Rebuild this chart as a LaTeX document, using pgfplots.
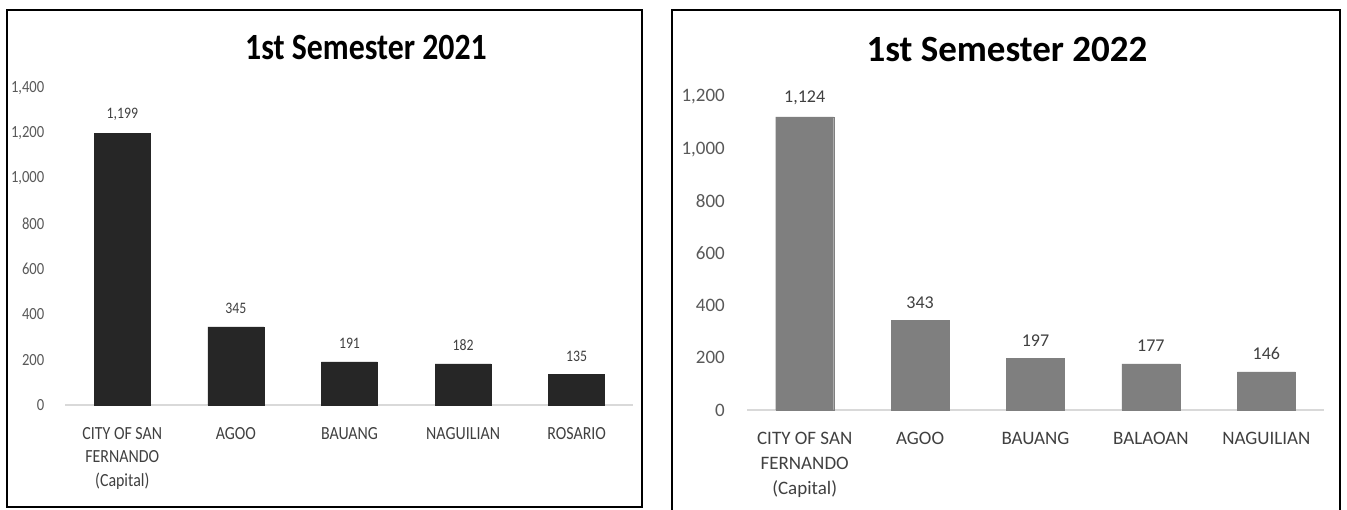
\documentclass[border=0pt]{standalone}
\usepackage{pgfplots}
\pgfplotsset{compat=1.18}
\usepackage{fontspec}
\setmainfont{Carlito}
\newfontfamily\condfont[FakeStretch=0.86]{Carlito}
\definecolor{txtgray}{HTML}{595959}
\definecolor{valgray}{HTML}{404040}
\definecolor{axgray}{HTML}{D9D9D9}
\definecolor{barblack}{HTML}{262626}
\definecolor{bargray}{HTML}{7F7F7F}
\begin{document}
\begin{tikzpicture}[x=1pt,y=1pt]
\clip (0,0) rectangle (1347,509);
\fill[white] (0,0) rectangle (1347,509);
\draw[line width=1.6pt, black] (7,2) rectangle (642,499);
\draw[line width=1.6pt, black] (672,-5) rectangle (1340,499);
\node[font=\condfont\bfseries\fontsize{37}{40}\selectfont, black] at (366,461) {1st Semester 2021};
\node[font=\bfseries\fontsize{37}{40}\selectfont, black] at (1007,459) {1st Semester 2022};
% left axis
\begin{axis}[
  at={(65.5pt,104pt)}, anchor=south west,
  scale only axis, width=568pt, height=317pt,
  xmin=-0.5, xmax=4.5, ymin=0, ymax=1400,
  axis lines*=left, separate axis lines,
  y axis line style={draw=none},
  x axis line style={draw=axgray, line width=1.5pt},
  tick style={draw=none},
  ytick={0,200,400,600,800,1000,1200,1400},
  yticklabels={0,200,400,600,800,{1,000},{1,200},{1,400}},
  yticklabel style={anchor=east, inner sep=0pt, xshift=-21pt, text=txtgray, font=\condfont\fontsize{17}{19}\selectfont},
  xtick={0,1,2,3,4},
  xticklabels={{CITY OF SAN\\FERNANDO\\(Capital)},AGOO,BAUANG,NAGUILIAN,ROSARIO},
  xticklabel style={anchor=north, inner sep=0pt, yshift=-18pt, align=center, text=valgray, font=\condfont\fontsize{18.5}{23.5}\selectfont},
  ybar, bar width=56pt,
  nodes near coords={\pgfmathprintnumber[assume math mode=true]{\pgfplotspointmeta}},
  nodes near coords style={text=valgray, font=\condfont\fontsize{16}{18}\selectfont, anchor=south, inner sep=0pt, yshift=13pt},
  clip=false,
]
\addplot[fill=barblack, draw=barblack] coordinates {(0,1199) (1,345) (2,191) (3,182) (4,135)};
\end{axis}
% right axis
\begin{axis}[
  at={(747pt,99pt)}, anchor=south west,
  scale only axis, width=577pt, height=313pt,
  xmin=-0.5, xmax=4.5, ymin=0, ymax=1200,
  axis lines*=left, separate axis lines,
  y axis line style={draw=none},
  x axis line style={draw=axgray, line width=1.5pt},
  tick style={draw=none},
  ytick={0,200,400,600,800,1000,1200},
  yticklabels={0,200,400,600,800,{1,000},{1,200}},
  yticklabel style={anchor=east, inner sep=0pt, xshift=-22pt, text=txtgray, font=\fontsize{19}{22}\selectfont},
  xtick={0,1,2,3,4},
  xticklabels={{CITY OF SAN\\FERNANDO\\(Capital)},AGOO,BAUANG,BALAOAN,NAGUILIAN},
  xticklabel style={anchor=north, inner sep=0pt, yshift=-18pt, align=center, text=valgray, font=\fontsize{19}{25}\selectfont},
  ybar, bar width=58pt,
  nodes near coords={\pgfmathprintnumber[assume math mode=true]{\pgfplotspointmeta}},
  nodes near coords style={text=valgray, font=\fontsize{18}{21}\selectfont, anchor=south, inner sep=0pt, yshift=12pt},
  clip=false,
]
\addplot[fill=bargray, draw=bargray] coordinates {(0,1124) (1,343) (2,197) (3,177) (4,146)};
\end{axis}
\end{tikzpicture}
\end{document}
